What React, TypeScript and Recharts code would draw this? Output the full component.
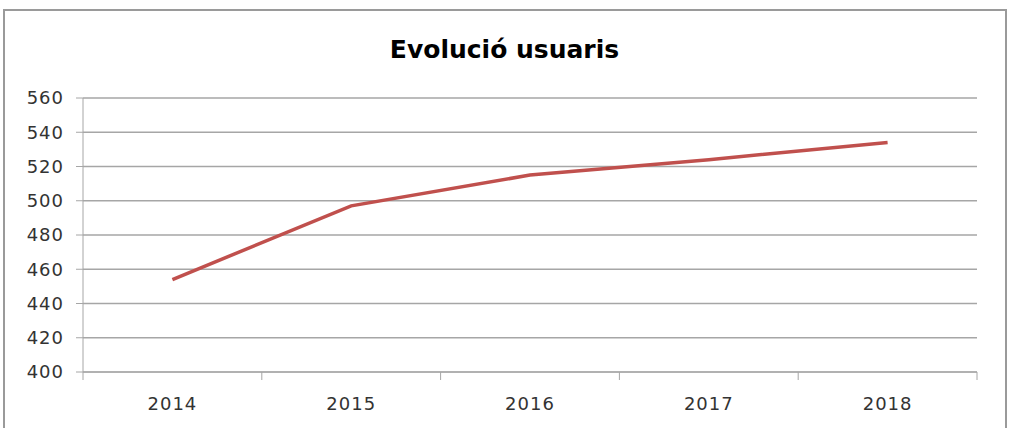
import * as React from "react"
import { CartesianGrid, Line, LineChart, XAxis, YAxis } from "recharts"

const years = ["2014", "2015", "2016", "2017", "2018"]
const usuaris = [454, 497, 515, 524, 534]
const yTicks = [400, 420, 440, 460, 480, 500, 520, 540, 560]

const data = years.map((year, i) => ({ year, usuaris: usuaris[i] }))

const W = 1009
const H = 428
const LEFT = 83
const RIGHT = 32
const FONT = "'DejaVu Sans', sans-serif"
const AXIS = "#a6a6a6"

const band = (W - LEFT - RIGHT) / years.length

// category label in the middle, tick marks on the band edges like Excel
function YearTick({ x, y, payload, index }: any) {
  return (
    <g>
      <line x1={x - band / 2} y1={y - 8} x2={x - band / 2} y2={y} stroke={AXIS} />
      {index === years.length - 1 && (
        <line x1={x + band / 2} y1={y - 8} x2={x + band / 2} y2={y} stroke={AXIS} />
      )}
      <text x={x} y={y + 30} textAnchor="middle" fill="#333" fontSize={18} letterSpacing={1} fontFamily={FONT}>
        {payload.value}
      </text>
    </g>
  )
}

export default function App() {
  return (
    <div style={{ position: "absolute", left: 0, top: 0, width: W, height: H, background: "#fff", overflow: "hidden" }}>
      <div style={{ position: "absolute", left: 3, top: 9, width: 1000, height: 440, border: "2px solid #9a9a9a", borderBottom: "none" }} />
      <div style={{ position: "absolute", left: 0, top: 35, width: W, textAlign: "center", fontFamily: FONT, fontWeight: "bold", fontSize: 25, color: "#000" }}>
        Evolució usuaris
      </div>
      <LineChart width={W} height={H} data={data} margin={{ top: 98, right: RIGHT, bottom: 16, left: 0 }} style={{ position: "absolute", left: 0, top: 0 }}>
        <CartesianGrid vertical={false} stroke={AXIS} strokeWidth={1.5} />
        <XAxis
          dataKey="year"
          stroke={AXIS}
          tickLine={false}
          tick={<YearTick />}
          height={40}
          interval={0}
          padding={{ left: band / 2, right: band / 2 }}
        />
        <YAxis
          domain={[400, 560]}
          ticks={yTicks}
          width={LEFT}
          stroke={AXIS}
          tickSize={7}
          tickMargin={12}
          tick={{ fill: "#333", fontSize: 18, fontFamily: FONT, letterSpacing: 1 }}
        />
        <Line type="linear" dataKey="usuaris" stroke="#c0504d" strokeWidth={3.5} dot={false} isAnimationActive={false} />
      </LineChart>
    </div>
  )
}
